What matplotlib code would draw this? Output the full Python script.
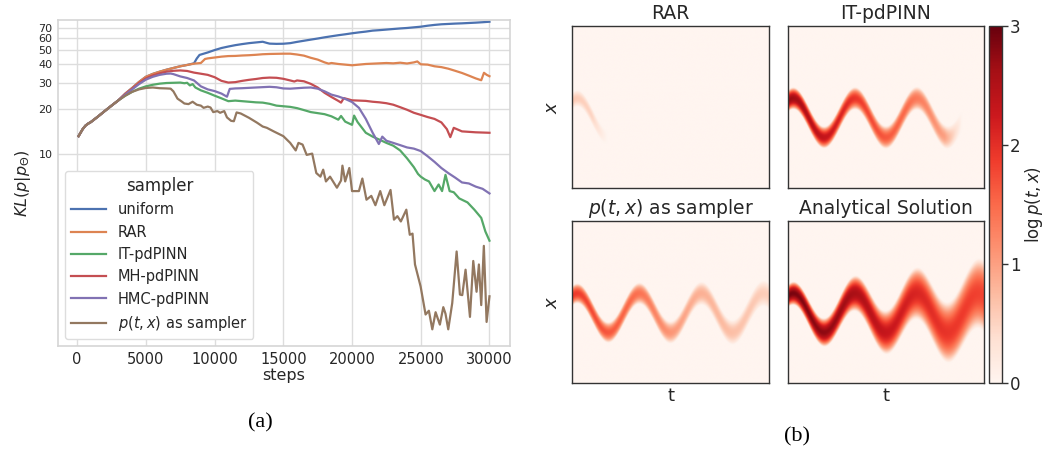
import numpy as np
import matplotlib
matplotlib.use("Agg")
import matplotlib.pyplot as plt

# ---- data: KL(p|p_theta) vs training steps -------------------------------
start_steps = [100, 400, 600, 800, 1000, 1500, 2000, 2500, 3000]
start_vals = [13.1, 14.6, 15.4, 15.9, 16.3, 17.7, 19.3, 21.0, 22.8]

rar_steps = start_steps + [3500, 4000, 4500, 5000, 5500, 6000, 6500, 7000, 7500, 8000, 8500, 9000,
                           9300, 9500, 10000, 10500, 11000, 11500, 12000, 12500, 13000, 13500,
                           14000, 14500, 15000, 15500, 16000, 16500, 17000, 17500, 18000, 18300,
                           18500, 19000, 19500, 20000, 20500, 21000, 21500, 22000, 22500, 23000,
                           23500, 24000, 24500, 24750, 25000, 25500, 26000, 26500, 27000, 27500,
                           28000, 28500, 29000, 29400, 29600, 29800, 30000]
rar_vals = start_vals + [25.3, 27.6, 30.3, 32.8, 34.3, 35.5, 36.6, 37.6, 38.6, 39.4, 40.2, 40.6,
                         43.2, 43.6, 44.2, 44.8, 45.2, 45.3, 45.6, 45.8, 46.1, 46.5,
                         46.7, 46.8, 46.9, 46.9, 46.3, 45.5, 44.0, 42.8, 41.0, 40.2,
                         40.6, 40.0, 39.6, 39.2, 39.6, 40.0, 40.2, 40.4, 40.6, 40.4,
                         40.8, 40.3, 41.0, 41.6, 39.8, 39.6, 38.6, 38.1, 37.2, 36.0,
                         34.8, 33.4, 32.0, 31.1, 34.9, 33.8, 33.1]

uniform_steps = start_steps + [3500, 4000, 4500, 5000, 5500, 6000, 6500, 7000, 7500, 8000, 8500,
                               8700, 8900, 9500, 10000, 10500, 11000, 11500, 12000, 12500, 13000,
                               13500, 13800, 14000, 14500, 15000, 15500, 16000, 16500, 17000,
                               17500, 18000, 18500, 19000, 19500, 20000, 20500, 21000, 21500,
                               22000, 22500, 23000, 23500, 24000, 24500, 25000, 25500, 26000,
                               26500, 27000, 27500, 28000, 28500, 29000, 29500, 30000]
uniform_vals = start_vals + [25.3, 27.6, 30.3, 32.8, 34.3, 35.5, 36.6, 37.6, 38.6, 39.4, 40.4,
                             43.5, 46.0, 47.8, 49.6, 51.2, 52.4, 53.5, 54.4, 55.2, 55.8,
                             56.4, 55.4, 54.8, 54.6, 54.7, 55.2, 56.3, 57.3, 58.3,
                             59.3, 60.4, 61.4, 62.4, 63.3, 64.3, 65.2, 66.0, 67.0,
                             67.5, 68.1, 68.7, 69.3, 69.8, 70.5, 71.2, 72.3, 73.2,
                             73.9, 74.3, 74.7, 75.0, 75.4, 75.8, 76.3, 76.9]

it_steps = start_steps + [3500, 4000, 4500, 5000, 5500, 6000, 6500, 7000, 7500, 7800, 8000, 8200,
                          8400, 8600, 9000, 9500, 10000, 10500, 11000, 11500, 12000, 12500, 13000,
                          13500, 14000, 14500, 15000, 15500, 16000, 16500, 17000, 17500, 18000,
                          18500, 19000, 19200, 19500, 20000, 20150, 20400, 21000, 21500, 22000,
                          22500, 23000, 23500, 24000, 24500, 24800, 25000, 25300, 25600, 26000,
                          26300, 26550, 26800, 27100, 27400, 27800, 28400, 28900, 29400, 29700,
                          30000]
it_vals = start_vals + [24.5, 26.0, 27.3, 28.3, 29.0, 29.5, 29.8, 29.9, 30.0, 29.7, 29.9, 28.7,
                        29.3, 27.8, 26.6, 25.6, 24.5, 23.5, 22.5, 22.7, 22.5, 22.3, 22.1,
                        22.0, 21.6, 21.0, 20.8, 20.6, 20.2, 19.6, 19.0, 18.7, 18.4,
                        17.8, 16.9, 17.9, 16.4, 15.6, 18.0, 16.3, 13.8, 13.0, 12.4,
                        11.8, 11.3, 10.5, 9.3, 8.1, 7.3, 7.0, 6.7, 6.5, 5.6,
                        6.2, 5.6, 7.2, 5.6, 5.5, 5.0, 4.7, 4.2, 3.7, 3.0,
                        2.6]

mh_steps = start_steps + [3500, 4000, 4500, 5000, 5500, 6000, 6500, 7000, 7500, 8000, 8500, 9000,
                          9500, 10000, 10500, 11000, 11500, 12000, 12500, 13000, 13500, 14000,
                          14500, 15000, 15500, 15800, 16000, 16500, 17000, 17500, 18000, 18500,
                          19000, 19200, 19400, 20000, 20500, 21000, 21500, 22000, 22500, 23000,
                          23500, 24000, 24500, 25000, 25500, 26000, 26500, 26900, 27150, 27400,
                          28000, 29000, 30000]
mh_vals = start_vals + [25.1, 27.3, 29.8, 32.0, 33.5, 34.6, 35.5, 36.0, 36.2, 35.9, 35.0, 34.4,
                        33.8, 32.6, 30.8, 30.0, 30.2, 30.8, 31.3, 31.7, 32.2, 32.4,
                        32.3, 31.8, 31.0, 30.5, 31.0, 30.6, 29.4, 27.8, 25.6, 24.0,
                        22.6, 22.0, 23.6, 22.8, 22.7, 22.6, 22.3, 22.1, 21.8, 21.3,
                        20.5, 19.7, 18.8, 18.2, 17.6, 17.1, 16.2, 14.6, 12.9, 14.9,
                        14.1, 13.9, 13.8]

hmc_steps = start_steps + [3500, 4000, 4500, 5000, 5500, 6000, 6500, 6800, 7000, 7500, 8000, 8500,
                           9000, 9500, 10000, 10500, 10900, 11100, 11500, 12000, 13000, 14000,
                           14500, 15000, 15500, 16000, 16500, 17000, 17500, 18000, 18500, 19000,
                           19500, 20000, 20500, 21000, 21500, 21950, 22200, 22500, 23000, 23500,
                           24000, 24500, 25000, 25500, 26000, 26500, 27000, 27500, 28000, 28500,
                           29000, 29500, 30000]
hmc_vals = start_vals + [24.9, 27.0, 29.3, 31.4, 32.8, 33.8, 34.4, 34.5, 34.2, 33.0, 32.2, 31.0,
                         28.3, 27.0, 26.3, 25.3, 24.1, 27.2, 27.4, 27.5, 27.8, 28.1,
                         27.9, 27.4, 27.3, 27.5, 27.7, 27.8, 27.3, 26.2, 24.9, 24.2,
                         23.3, 22.2, 20.3, 17.1, 13.8, 11.6, 13.0, 12.2, 11.8, 11.4,
                         11.0, 10.8, 10.4, 9.6, 8.8, 8.0, 7.4, 6.9, 6.4, 6.3,
                         6.0, 5.8, 5.4]

ptx_steps = start_steps + [3500, 4000, 4500, 5000, 5500, 6000, 6500, 6800, 7000, 7300, 7600, 7800,
                           8100, 8400, 8700, 9000, 9200, 9500, 9700, 9900, 10200, 10400, 10700,
                           10900, 11200, 11400, 11600, 11900, 12500, 13100, 13500, 13800, 14300,
                           15000, 15500, 15900, 16100, 16400, 16700, 17100, 17400, 17700, 17900,
                           18100, 18400, 18900, 19200, 19300, 19500, 19800, 20000, 20500, 20750,
                           21050, 21400, 21700, 22050, 22350, 22550, 22800, 23050, 23300, 23550,
                           23950, 24200, 24400, 24580, 24990, 25350, 25590, 25840, 26080, 26390,
                           26640, 26800, 27000, 27290, 27610, 27850, 28020, 28260, 28580, 28820,
                           29060, 29230, 29400, 29590, 29790, 30000]
ptx_vals = start_vals + [24.5, 26.0, 27.0, 27.6, 27.8, 27.5, 27.4, 27.3, 26.2, 23.4, 22.4, 21.7,
                         21.5, 22.3, 21.3, 21.0, 20.3, 20.7, 20.4, 19.0, 19.3, 18.8, 19.3,
                         17.5, 16.6, 16.5, 18.9, 18.6, 17.4, 16.1, 15.2, 14.9, 14.1,
                         13.1, 11.8, 10.5, 11.8, 11.5, 9.8, 10.0, 7.4, 7.0, 7.8,
                         6.5, 7.0, 5.9, 6.6, 8.3, 6.5, 8.0, 5.6, 5.6, 6.8,
                         4.9, 5.2, 4.5, 5.6, 4.5, 5.0, 5.7, 3.6, 3.8, 3.5,
                         4.2, 2.85, 2.9, 1.8, 1.28, 0.83, 0.88, 0.66, 0.86, 0.71,
                         0.93, 0.84, 0.66, 0.99, 2.2, 1.13, 1.12, 1.66, 0.8, 1.9,
                         1.18, 1.8, 0.96, 2.4, 0.74, 1.1]

samplers = ["uniform", "RAR", "IT-pdPINN", "MH-pdPINN", "HMC-pdPINN", "$p(t,x)$ as sampler"]
colors = ["#4C72B0", "#DD8452", "#55A868", "#C44E52", "#8172B3", "#937860"]
curves = [(uniform_steps, uniform_vals), (rar_steps, rar_vals), (it_steps, it_vals),
          (mh_steps, mh_vals), (hmc_steps, hmc_vals), (ptx_steps, ptx_vals)]
ytick_vals = [10, 20, 30, 40, 50, 60, 70]
xtick_vals = [0, 5000, 10000, 15000, 20000, 25000, 30000]

# ---- data: density panels (band) -----------------------------------------
panel_titles = ["RAR", "IT-pdPINN", "$p(t,x)$ as sampler", "Analytical Solution"]
band_center, band_amp, band_phase, band_period = 0.43, 0.12, 0.026, 0.316
# per panel: knots in t, peak log-density, half width of band
rar_t, rar_L, rar_w = [0.0, 0.1, 0.18], [0.6, 0.5, 0.0], [0.05, 0.05, 0.045]
it_t = [0.0, 0.2, 0.4, 0.6, 0.8, 0.89]
it_L = [2.7, 2.3, 1.8, 1.5, 1.0, 0.0]
it_w = [0.068, 0.068, 0.07, 0.072, 0.072, 0.065]
ptx_t, ptx_L, ptx_w = [0.0, 0.3, 0.6, 1.0], [1.9, 1.5, 0.9, 0.55], [0.062, 0.066, 0.07, 0.08]
ana_t = [0.0, 0.25, 0.5, 0.75, 1.0]
ana_L = [2.9, 2.7, 2.3, 2.0, 1.8]
ana_w = [0.07, 0.095, 0.135, 0.175, 0.22]
panel_knots = [(rar_t, rar_L, rar_w), (it_t, it_L, it_w), (ptx_t, ptx_L, ptx_w), (ana_t, ana_L, ana_w)]

text_c = "#262626"
fig = plt.figure(figsize=(10.49, 4.54), dpi=100)

# ---- left panel ------------------------------------------------------------
ax = fig.add_axes([0.0553, 0.2379, 0.4309, 0.7181])
for name, col, (s, v) in zip(samplers, colors, curves):
    ax.plot(s, v, color=col, lw=1.6, label=name)
ax.set_yscale("log")
ax.set_xlim(-1395, 31495)
ax.set_ylim(0.51, 79)
ax.set_yticks(ytick_vals)
ax.set_yticklabels([str(v) for v in ytick_vals], fontsize=8, color=text_c)
ax.yaxis.set_minor_locator(matplotlib.ticker.NullLocator())
ax.set_xticks(xtick_vals)
ax.set_xticklabels([str(v) for v in xtick_vals], fontsize=10.5, color=text_c)
ax.tick_params(length=0, pad=4)
ax.grid(True, color="#dddddd", lw=1)
ax.set_axisbelow(True)
for sp in ax.spines.values():
    sp.set_color("#d5d5d5")
    sp.set_linewidth(1.2)
ax.set_xlabel("steps", fontsize=11.5, color=text_c, labelpad=1)
ax.set_ylabel(r"$KL(p|p_\Theta)$", fontsize=11.5, color=text_c)
leg = ax.legend(title="sampler", loc="lower left", fontsize=10.5, title_fontsize=12,
                handlelength=2.4, edgecolor="#dddddd", framealpha=1, labelspacing=0.5)
for t in leg.get_texts():
    t.set_color(text_c)
leg.get_title().set_color(text_c)

# ---- right panels ------------------------------------------------------------
tt = np.linspace(0, 1, 400)
xx = np.linspace(0, 1, 300)
T, X = np.meshgrid(tt, xx)
mu = band_center + band_amp * np.cos(2 * np.pi * (T - band_phase) / band_period)

rects = [[0.5456, 0.5852, 0.1872, 0.3581], [0.7515, 0.5852, 0.1863, 0.3581],
         [0.5456, 0.1557, 0.1872, 0.3581], [0.7515, 0.1557, 0.1863, 0.3581]]
im = None
for i, (title, (kt, kl, kw), r) in enumerate(zip(panel_titles, panel_knots, rects)):
    a = fig.add_axes(r)
    L = np.interp(T, kt, kl, right=0.0)
    W = np.interp(T, kt, kw)
    Z = L * np.clip(1 - ((X - mu) / W) ** 2, 0, None)
    im = a.imshow(Z, origin="lower", extent=[0, 1, 0, 1], aspect="auto",
                  cmap="Reds", vmin=0, vmax=3, interpolation="bilinear")
    a.set_xticks([])
    a.set_yticks([])
    for sp in a.spines.values():
        sp.set_color("#333333")
        sp.set_linewidth(1.0)
    a.set_title(title, fontsize=13.5, color=text_c, pad=5)
    if i % 2 == 0:
        a.set_ylabel("$x$", fontsize=13, color=text_c, labelpad=8)
    if i >= 2:
        a.set_xlabel("t", fontsize=13, color=text_c, labelpad=3)

cax = fig.add_axes([0.9431, 0.1557, 0.0118, 0.7877])
cb = fig.colorbar(im, cax=cax, ticks=[0, 1, 2, 3])
cb.outline.set_edgecolor("#333333")
cb.outline.set_linewidth(1.0)
cax.tick_params(labelsize=12, length=4, width=1, pad=2, colors="#333333", labelcolor=text_c)
cb.set_label(r"$\log p(t,x)$", fontsize=12, color=text_c, labelpad=2)

fig.text(0.2479, 0.0683, "(a)", fontsize=16, family="Liberation Serif", ha="center", va="center")
fig.text(0.7598, 0.0374, "(b)", fontsize=16, family="Liberation Serif", ha="center", va="center")

fig.savefig("out.png", dpi=100)
